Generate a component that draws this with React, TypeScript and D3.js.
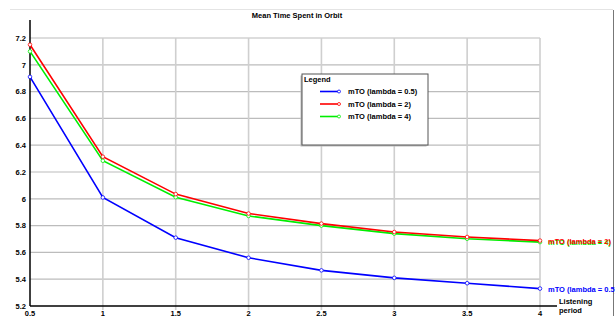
import React from "react";
import * as d3 from "d3";

const periods = [0.5, 1, 1.5, 2, 2.5, 3, 3.5, 4];
const mtoLambda05 = [6.91, 6.01, 5.71, 5.56, 5.466, 5.41, 5.37, 5.33];
const mtoLambda2 = [7.15, 6.314, 6.035, 5.89, 5.815, 5.752, 5.715, 5.688];
const mtoLambda4 = [7.1, 6.284, 6.012, 5.872, 5.8, 5.74, 5.702, 5.677];
const seriesNames = ["mTO (lambda = 0.5)", "mTO (lambda = 2)", "mTO (lambda = 4)"];
const seriesColors = ["#0000ff", "#ff0000", "#00ee00"];
const xTicks = [0.5, 1, 1.5, 2, 2.5, 3, 3.5, 4];
const yTicks = [5.2, 5.4, 5.6, 5.8, 6, 6.2, 6.4, 6.6, 6.8, 7, 7.2];
const title = "Mean Time Spent in Orbit";
const xTitle = ["Listening", "period"];

const W = 615;
const H = 316;
const FONT = "'Liberation Sans', Arial, sans-serif";

export default function App() {
  const x = d3.scaleLinear().domain([0.5, 4]).range([30, 540]);
  const y = d3.scaleLinear().domain([5.2, 7.2]).range([306, 38]);
  const series = [mtoLambda05, mtoLambda2, mtoLambda4];
  const line = d3
    .line<number>()
    .x((_, i) => x(periods[i]))
    .y((d) => y(d));

  const drawOrder = [0, 2, 1];
  const legendX = 302;
  const legendY = 74;

  return (
    <svg
      width={W}
      height={H}
      style={{ position: "absolute", left: 0, top: 0, background: "#fff" }}
      fontFamily={FONT}
    >
      <rect x={0} y={0} width={W} height={H} fill="#fff" />
      {/* frame */}
      <line x1={10} x2={613} y1={9.5} y2={9.5} stroke="#e4e4e4" strokeWidth={1} />
      <line x1={613.5} x2={613.5} y1={10} y2={H} stroke="#777" strokeWidth={1} />

      {/* title */}
      <text x={297} y={17.5} textAnchor="middle" fontSize={7.5} fontWeight="bold" fill="#000">
        {title}
      </text>

      {/* horizontal gridlines */}
      {yTicks
        .filter((t) => t !== 5.2)
        .map((t) => (
          <line key={"hy" + t} x1={x(0.5)} x2={x(4)} y1={y(t)} y2={y(t)} stroke="#bcbcbc" strokeWidth={1.2} />
        ))}
      {/* vertical gridlines */}
      {xTicks
        .filter((t) => t !== 0.5)
        .map((t) => (
          <line key={"vx" + t} x1={x(t)} x2={x(t)} y1={y(7.2)} y2={y(5.2) + 4} stroke="#cfcfcf" strokeWidth={1.6} />
        ))}

      {/* axes */}
      <line x1={x(0.5)} x2={x(0.5)} y1={20} y2={y(5.2)} stroke="#000" strokeWidth={1.5} />
      <line x1={x(0.5)} x2={557} y1={y(5.2)} y2={y(5.2)} stroke="#000" strokeWidth={1.5} />

      {/* y tick labels */}
      {yTicks.map((t) => (
        <text
          key={"yl" + t}
          x={26}
          y={y(t) + 2.7}
          textAnchor="end"
          fontSize={7.5}
          fontWeight="bold"
          fill="#000"
        >
          {d3.format("~g")(t)}
        </text>
      ))}
      {/* x tick labels */}
      {xTicks.map((t) => (
        <text key={"xl" + t} x={x(t)} y={315.5} textAnchor="middle" fontSize={7.5} fontWeight="bold" fill="#000">
          {d3.format("~g")(t)}
        </text>
      ))}
      <text x={559} y={303.5} fontSize={7.5} fontWeight="bold" fill="#000">
        {xTitle[0]}
      </text>
      <text x={559} y={313} fontSize={7.5} fontWeight="bold" fill="#000">
        {xTitle[1]}
      </text>

      {/* series */}
      {drawOrder.map((si) => (
        <g key={"s" + si}>
          <path d={line(series[si]) || ""} fill="none" stroke={seriesColors[si]} strokeWidth={1.6} />
          {series[si].map((v, i) => (
            <circle
              key={i}
              cx={x(periods[i])}
              cy={y(v)}
              r={1.8}
              fill="#fff"
              stroke={seriesColors[si]}
              strokeWidth={0.8}
            />
          ))}
          <text
            x={x(4) + 8}
            y={y(series[si][series[si].length - 1]) + 3}
            fontSize={7.5}
            fontWeight="bold"
            fill={seriesColors[si]}
          >
            {seriesNames[si]}
          </text>
        </g>
      ))}

      {/* legend */}
      <rect x={legendX - 1.5} y={legendY + 1.5} width={126} height={71} fill="#bbb" />
      <rect x={legendX} y={legendY} width={126} height={71} fill="#fff" stroke="#555" strokeWidth={1} />
      <text x={legendX + 2} y={legendY + 8} fontSize={7.5} fontWeight="bold" fill="#000">
        Legend
      </text>
      {seriesNames.map((name, i) => {
        const ly = legendY + 17.5 + i * 12.5;
        return (
          <g key={"lg" + i}>
            <line x1={legendX + 18} x2={legendX + 37} y1={ly} y2={ly} stroke={seriesColors[i]} strokeWidth={1.6} />
            <circle cx={legendX + 37} cy={ly} r={1.5} fill="#fff" stroke={seriesColors[i]} strokeWidth={0.8} />
            <text x={legendX + 46} y={ly + 2.7} fontSize={7.5} fontWeight="bold" fill="#000">
              {name}
            </text>
          </g>
        );
      })}
    </svg>
  );
}
